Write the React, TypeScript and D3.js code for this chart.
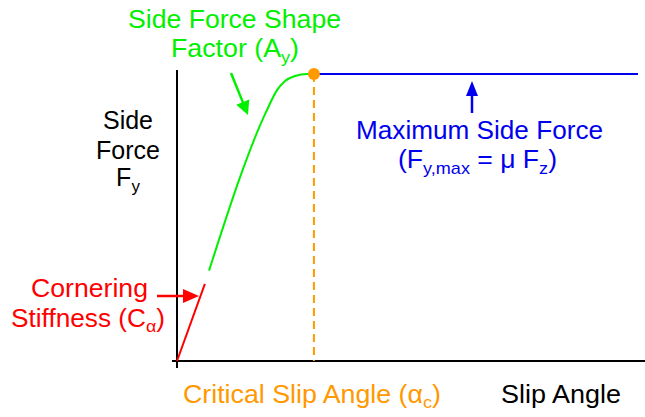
import React from "react";
import * as d3 from "d3";

// Data (slip angle units, normalised side force)
const redLine: [number, number][] = [[0, 0], [1.21, 0.269]];
const greenCurve: [number, number][] = [
  [1.39, 0.315],
  [3.86, 0.867],
  [4.34, 0.944],
  [4.69, 0.976],
  [5.12, 0.993],
  [5.64, 1.0],
  [5.94, 1.0],
];
const blueLine: [number, number][] = [[5.94, 1.0], [20, 1.0]];
const criticalAngle = 5.94;
const maxForce = 1.0;

const W = 645, H = 417;
const FONT = "'Liberation Sans', Arial, sans-serif";
const GREEN = "#00f000";
const RED = "#ff0000";
const BLUE = "#0000ee";
const ORANGE = "#ff9900";

function Arrow({ x1, y1, x2, y2, color, len = 14, half = 7 }: any) {
  const dx = x2 - x1, dy = y2 - y1;
  const L = Math.hypot(dx, dy);
  const ux = dx / L, uy = dy / L;
  const bx = x2 - ux * len, by = y2 - uy * len;
  const px = -uy, py = ux;
  const pts = `${x2},${y2} ${bx + px * half},${by + py * half} ${bx - px * half},${by - py * half}`;
  return (
    <g>
      <line x1={x1} y1={y1} x2={bx + ux * 2} y2={by + uy * 2} stroke={color} strokeWidth={2.5} />
      <polygon points={pts} fill={color} />
    </g>
  );
}

export default function App() {
  const x = d3.scaleLinear().domain([0, 20]).range([177, 638]);
  const y = d3.scaleLinear().domain([0, 1]).range([361, 74]);
  const line = d3.line<[number, number]>().x((d) => x(d[0])).y((d) => y(d[1]));
  const curve = d3
    .line<[number, number]>()
    .x((d) => x(d[0]))
    .y((d) => y(d[1]))
    .curve(d3.curveMonotoneX);

  const fs = 25;
  const sub = 17;
  const adj = "spacingAndGlyphs";

  return (
    <svg
      width={W}
      height={H}
      style={{ position: "absolute", left: 0, top: 0, background: "#fff" }}
      fontFamily={FONT}
      fontSize={fs}
    >
      {/* axes */}
      <line x1={177} y1={70} x2={177} y2={368} stroke="#000" strokeWidth={2} />
      <line x1={172} y1={361} x2={645} y2={361} stroke="#000" strokeWidth={2} />

      {/* critical angle dashed */}
      <line
        x1={x(criticalAngle)}
        y1={y(maxForce)}
        x2={x(criticalAngle)}
        y2={361}
        stroke={ORANGE}
        strokeWidth={2}
        strokeDasharray="8,5"
      />

      {/* curves */}
      <path d={line(blueLine) || ""} fill="none" stroke={BLUE} strokeWidth={2} />
      <path d={curve(greenCurve) || ""} fill="none" stroke={GREEN} strokeWidth={2} />
      <path d={line(redLine) || ""} fill="none" stroke={RED} strokeWidth={2} />
      <circle cx={x(criticalAngle)} cy={y(maxForce)} r={6} fill={ORANGE} />

      {/* arrows */}
      <Arrow x1={231} y1={73} x2={248} y2={115} color={GREEN} />
      <Arrow x1={157} y1={296} x2={199} y2={296} color={RED} len={16} />
      <Arrow x1={472} y1={113} x2={472} y2={81} color={BLUE} len={15} half={6} />

      {/* y label */}
      <g fill="#000" textAnchor="middle">
        <text x={128} y={129}>Side</text>
        <text x={128} y={159}>Force</text>
        <text x={128} y={186}>
          F<tspan fontSize={sub} dy={6}>y</tspan>
        </text>
      </g>

      {/* green label */}
      <g fill={GREEN}>
        <text x={128} y={28} textLength={213} lengthAdjust={adj}>Side Force Shape</text>
        <text x={171} y={57} textLength={128} lengthAdjust={adj}>
          Factor (A<tspan fontSize={sub} dy={6}>y</tspan>
          <tspan dy={-6}>)</tspan>
        </text>
      </g>

      {/* red label */}
      <g fill={RED}>
        <text x={31} y={297} textLength={117} lengthAdjust={adj}>Cornering</text>
        <text x={11} y={327} textLength={154} lengthAdjust={adj}>
          Stiffness (C<tspan fontSize={sub} dy={5}>α</tspan>
          <tspan dy={-5}>)</tspan>
        </text>
      </g>

      {/* blue label */}
      <g fill={BLUE}>
        <text x={356} y={139} textLength={247} lengthAdjust={adj}>Maximum Side Force</text>
        <text x={398} y={168} textLength={159} lengthAdjust={adj}>
          (F<tspan fontSize={sub} dy={6}>y,max</tspan>
          <tspan dy={-6}> = μ F</tspan>
          <tspan fontSize={sub} dy={6}>z</tspan>
          <tspan dy={-6}>)</tspan>
        </text>
      </g>

      {/* x labels */}
      <text x={183} y={403} fill={ORANGE} textLength={258} lengthAdjust={adj}>
        Critical Slip Angle (α<tspan fontSize={sub} dy={5}>c</tspan>
        <tspan dy={-5}>)</tspan>
      </text>
      <text x={501} y={403} fill="#000" textLength={120} lengthAdjust={adj}>Slip Angle</text>
    </svg>
  );
}
